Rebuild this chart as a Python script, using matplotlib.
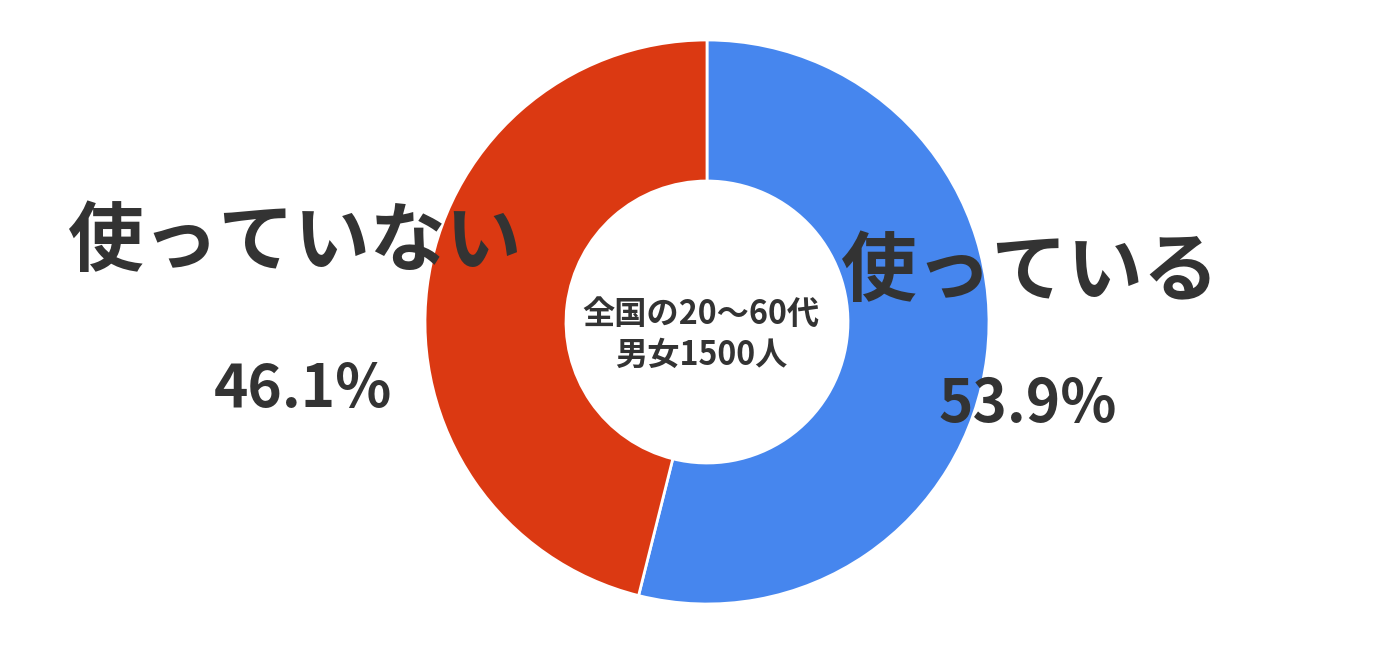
import matplotlib.pyplot as plt

plt.rcParams['font.family'] = ['Noto Sans CJK JP', 'DejaVu Sans']

labels = ["使っている", "使っていない"]
shares = [53.9, 46.1]
colors = ["#4686EE", "#DB3912"]
center_text = "全国の20～60代\n男女1500人"

W, H = 1399, 648
fig = plt.figure(figsize=(W / 100, H / 100), dpi=100)

cx, cy, r = 707, 322, 282
ax = fig.add_axes([(cx - r) / W, (H - cy - r) / H, 2 * r / W, 2 * r / H])
ax.pie(shares, colors=colors, startangle=90, counterclock=False,
       wedgeprops=dict(width=0.5, edgecolor="white", linewidth=2))
ax.set_aspect("equal")
ax.set_xlim(-1, 1)
ax.set_ylim(-1, 1)
ax.axis("off")

def ftext(x, y, s, size, ls=1.25):
    fig.text(x / W, 1 - y / H, s, ha="center", va="center", fontsize=size,
             fontweight="bold", color="#333333", zorder=5, linespacing=ls)

ftext(701, 335, center_text, 23.2, ls=1.3)
ftext(1030, 272, labels[0], 54.5)
ftext(295, 242, labels[1], 54.5)
ftext(1028, 405, f"{shares[0]}%", 42)
ftext(303, 390, f"{shares[1]}%", 42)

fig.savefig("out.png", dpi=100)
